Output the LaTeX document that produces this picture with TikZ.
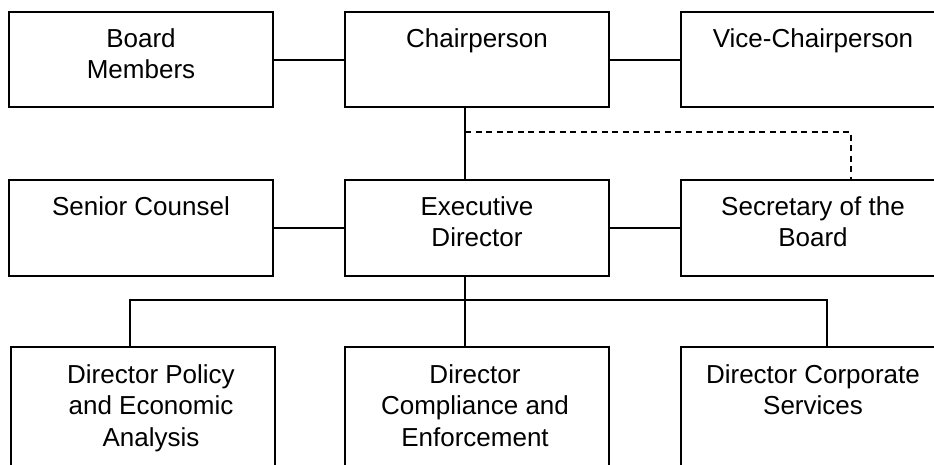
\documentclass[tikz,border=0pt]{standalone}
\usepackage{fontspec}
\setmainfont{Liberation Sans}
\begin{document}
\begin{tikzpicture}[x=1pt,y=-1pt,
  box/.style={draw, line width=2pt, minimum width=264pt, minimum height=95pt, anchor=north west, inner sep=0pt, outer sep=0pt},
  tallbox/.style={box, minimum height=140pt},
  lbl/.style={anchor=base, inner sep=0pt, font=\fontsize{26}{31.5}\selectfont},
  conn/.style={line width=2pt},
  dconn/.style={line width=2pt, dash pattern=on 6pt off 4.5pt}]
\useasboundingbox (0,0) rectangle (934,464);
\clip (0,0) rectangle (934,464);
% boxes
\node[box] (board) at (9,12) {};
\node[box] (chair) at (345,12) {};
\node[box] (vice) at (681,12) {};
\node[box, minimum height=96pt] (senior) at (9,180) {};
\node[box, minimum height=96pt] (exec) at (345,180) {};
\node[box, minimum height=96pt] (sec) at (681,180) {};
\node[tallbox] (policy) at (11,347) {};
\node[tallbox] (comp) at (345,347) {};
\node[tallbox] (corp) at (681,347) {};
% labels
\node[lbl] (boardT) at (141,47) {\begin{tabular}[t]{@{}c@{}}Board\\Members\end{tabular}};
\node[lbl] (chairT) at (477,47) {Chairperson};
\node[lbl] (viceT) at (813,47) {Vice-Chairperson};
\node[lbl] (seniorT) at (141,215) {Senior Counsel};
\node[lbl] (execT) at (477,215) {\begin{tabular}[t]{@{}c@{}}Executive\\Director\end{tabular}};
\node[lbl] (secT) at (813,215) {\begin{tabular}[t]{@{}c@{}}Secretary of the\\Board\end{tabular}};
\node[lbl] (policyT) at (151,383) {\begin{tabular}[t]{@{}c@{}}Director Policy\\and Economic\\Analysis\end{tabular}};
\node[lbl] (compT) at (475,383) {\begin{tabular}[t]{@{}c@{}}Director\\Compliance and\\Enforcement\end{tabular}};
\node[lbl] (corpT) at (813,383) {\begin{tabular}[t]{@{}c@{}}Director Corporate\\Services\end{tabular}};
% connector coordinates
\coordinate (chairS) at (465,107);
\coordinate (execN) at (465,180);
\coordinate (dashA) at (465,132);
\coordinate (dashB) at (851,132);
\coordinate (secN) at (851,180);
\coordinate (execS) at (465,276);
\coordinate (compN) at (465,347);
\coordinate (busL) at (130,300);
\coordinate (busR) at (827,300);
\coordinate (policyN) at (130,347);
\coordinate (corpN) at (827,347);
% connectors
\draw[conn] (board.east) -- (chair.west);
\draw[conn] (chair.east) -- (vice.west);
\draw[conn] (chairS) -- (execN);
\draw[dconn] (dashA) -- (dashB) -- (secN);
\draw[conn] (senior.east) -- (exec.west);
\draw[conn] (exec.east) -- (sec.west);
\draw[conn] (execS) -- (compN);
\draw[conn] (policyN) -- (busL) -- (busR) -- (corpN);
\end{tikzpicture}
\end{document}
